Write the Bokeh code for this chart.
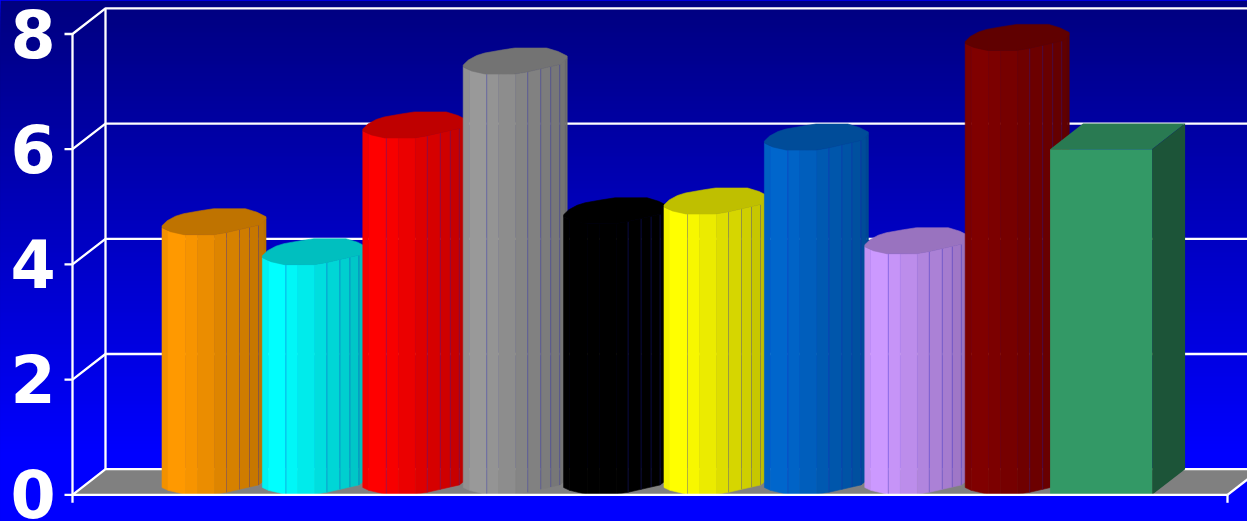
import numpy as np
from bokeh.plotting import figure
from bokeh.models import Range1d
from bokeh.core.properties import value
from bokeh.embed import file_html
from bokeh.resources import INLINE

# ---- data ----
tick_values = [0, 2, 4, 6, 8]
tick_labels = ["0", "2", "4", "6", "8"]
cyl_values = [4.51, 3.99, 6.19, 7.30, 4.70, 4.87, 5.98, 4.18, 7.71]
cyl_colors = [(255, 153, 0), (0, 255, 255), (255, 0, 0), (153, 153, 153), (0, 0, 0),
              (255, 255, 0), (0, 102, 204), (204, 153, 255), (128, 0, 0)]
box_value = 6.0
box_color = (51, 153, 102)

# ---- geometry ----
W, H = 1247, 521
PX_X, PX_Y = 100.4, 57.6      # pixels per slot / per value unit
X0_PX, Y0_PX = 213.5, 494.3   # slot 0 centre, value 0 on the front plane
DX, DY = 33 / PX_X, 25.6 / PX_Y # depth offset
AX_L, AX_R = (72 - X0_PX) / PX_X, (1227 - X0_PX) / PX_X
TICK = 8 / PX_X
HALF_W = 51 / PX_X
BASE = 13.3 / PX_Y

# cap outline of the faceted cylinders, pixels from the cap centre (y: down positive)
FRONT_X = np.array([-52, -46, -28.5, -16.5, 0.5, 12.5, 25.5, 35.5, 44.5, 50, 52])
FRONT_KX = [-52, -43.5, -30, -0.5, 11.5, 46.5, 52]
FRONT_KY = [6, 10, 13, 13, 11, 3, -3]
BACK_X = [52, 43, 31.5, -0.5, -13.5, -30.5, -38.5, -46.8, -52]
BACK_Y = [-5, -9.5, -13, -13, -11, -8, -5.5, -1, 4]
SHADES = [0.95, 1.0, 0.97, 0.92, 0.87, 0.84, 0.81, 0.78, 0.75, 0.72]
EDGE_IDX = [2, 5, 6, 7, 8]
NO_LEFT_EDGE = [0, 4, 8]


def shade(c, f):
    return "#%02x%02x%02x" % tuple(int(round(v * f)) for v in c)


def front_y(px):
    return -np.interp(px, FRONT_KX, FRONT_KY) / PX_Y


p = figure(width=W, height=H, output_backend="svg", toolbar_location=None,
           x_range=Range1d(-X0_PX / PX_X, (W - X0_PX) / PX_X),
           y_range=Range1d((Y0_PX - H) / PX_Y, Y0_PX / PX_Y),
           min_border=0, outline_line_color=None)
p.axis.visible = False
p.grid.visible = False
p.background_fill_color = "#0000ff"
p.border_fill_color = "#0000ff"

# background gradient (each band runs to the bottom so no seams show)
xl, xr = p.x_range.start, p.x_range.end
yb, yt = p.y_range.start, p.y_range.end
band_tops = np.arange(0, H, 4)
p.quad(left=xl, right=xr, top=[yt - t / PX_Y for t in band_tops], bottom=yb,
       fill_color=["#0000%02x" % int(min(255, 128 + 127 * t / 450)) for t in band_tops],
       line_color=None)

# floor
p.patch([AX_L, AX_L + DX, AX_R + DX, AX_R], [0, DY, DY, 0], fill_color="#808080", line_color=None)

# walls: grid lines
WHITE = dict(line_color="#ffffff", line_width=2.3)
for v in tick_values:
    p.line([AX_L - TICK, AX_L, AX_L + DX, xr], [v, v, v + DY, v + DY], **WHITE)
p.line([AX_L, AX_L], [-8 / PX_Y, 8], **WHITE)
p.line([AX_L + DX, AX_L + DX], [DY, 8 + DY], **WHITE)
p.line([AX_R, AX_R], [-8 / PX_Y, 0], **WHITE)
p.line([AX_R, AX_R + DX], [0, DY], **WHITE)

p.text(x=[AX_L - 39.5 / PX_X] * 5, y=tick_values, text=tick_labels, y_offset=-1,
       text_font=value("DejaVu Sans"), text_font_style="bold", text_font_size="65px",
       text_color="#ffffff", text_align="center", text_baseline="middle")

# cylinders, painted left to right
for i, (v, c) in enumerate(zip(cyl_values, cyl_colors)):
    base_y, top_y = BASE, BASE + v
    xpx = i + FRONT_X / PX_X
    curve = front_y(FRONT_X)
    xs, ys, cols = [], [], []
    for k in range(len(SHADES)):
        x0, x1 = xpx[k], xpx[k + 1]
        xs.append([x0, x1, x1, x0])
        ys.append([base_y + curve[k], base_y + curve[k + 1], top_y + curve[k + 1], top_y + curve[k]])
        cols.append(shade(c, SHADES[k]))
    p.patches(xs, ys, fill_color=cols, line_color=cols, line_width=0.6)
    # facet edges
    for k in EDGE_IDX:
        if k == 2 and i in NO_LEFT_EDGE:
            continue
        p.line([xpx[k], xpx[k]], [base_y + curve[k], top_y + curve[k]],
               line_color="#2020c0", line_alpha=0.35, line_width=0.9)
    # top face
    kx = np.array(FRONT_KX)
    cap_x = list(i + kx / PX_X) + [i + b / PX_X for b in BACK_X]
    cap_y = [top_y - f / PX_Y for f in FRONT_KY] + [top_y - b / PX_Y for b in BACK_Y]
    p.patch(cap_x, cap_y, fill_color=shade(c, 0.75), line_color=shade(c, 0.75), line_width=0.6)

# last series: box
cx = len(cyl_values) - DX / 2
l, r = cx - HALF_W, cx + HALF_W
p.patch([l, r, r + DX, l + DX], [box_value, box_value, box_value + DY, box_value + DY],
        fill_color=shade(box_color, 0.8), line_color=None)
p.patch([r, r + DX, r + DX, r], [0, DY, box_value + DY, box_value],
        fill_color=shade(box_color, 0.55), line_color=None)
p.quad(left=[l], right=[r], bottom=[0], top=[box_value], fill_color=shade(box_color, 1), line_color=None)

# front edge of the floor lies over the bars
p.line([AX_L, AX_R], [0, 0], **WHITE)

T = "{% block postamble %}<style>html,body{margin:0;padding:0;overflow:hidden;background:#0000ff}</style>{% endblock %}"
open("out.html", "w").write(file_html(p, INLINE, template=T))
